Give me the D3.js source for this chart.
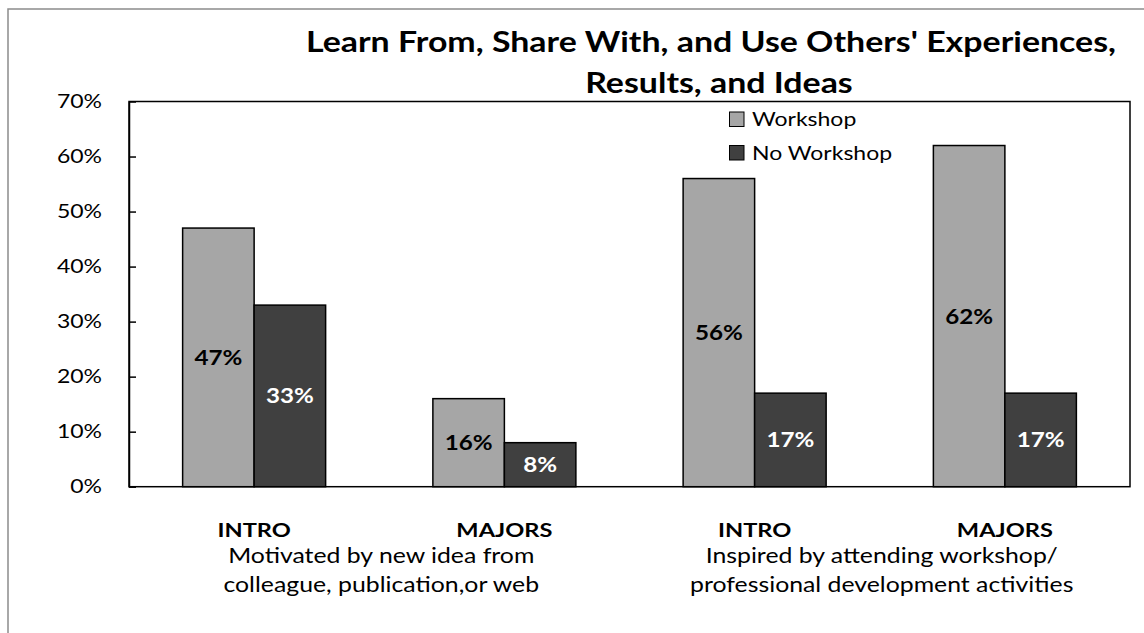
<!DOCTYPE html>
<html>
<head>
<meta charset="utf-8">
<script src="https://cdn.jsdelivr.net/npm/d3@7"></script>
<style>
  body { margin: 0; background: #fff; }
  svg { display: block; font-family: Lato, "Open Sans", sans-serif; }
</style>
</head>
<body>
<div id="chart"></div>
<script>
// data
const categories = ["INTRO", "MAJORS", "INTRO", "MAJORS"]
const groupLabels = [
  ["Motivated by new idea from", "colleague, publication,or web"],
  ["Inspired by attending workshop/", "professional development activities"]
]
const seriesNames = ["Workshop", "No Workshop"]
const workshop = [47, 16, 56, 62]
const noWorkshop = [33, 8, 17, 17]
const yTicks = [0, 10, 20, 30, 40, 50, 60, 70]

const colors = ["#a6a6a6", "#404040"]
const labelColors = ["#000", "#fff"]

const width = 1144, height = 633
const plot = { left: 129, right: 1130, top: 101.5, bottom: 486.7 }
// the original picture is stretched sideways, so text is widened to match
const stretch = 1.21

let svg = d3.select("#chart").append("svg")
  .attr("width", width)
  .attr("height", height)

// outer chart frame (only left and top visible)
svg.append("rect")
  .attr("x", 8).attr("y", 9)
  .attr("width", 1200).attr("height", 700)
  .attr("fill", "none")
  .attr("stroke", "#8c8c8c")
  .attr("stroke-width", 1.5)

const x0 = d3.scaleBand()
  .domain(d3.range(categories.length))
  .range([plot.left, plot.right])
  .paddingInner(0)

const x1 = d3.scaleBand()
  .domain([0, 1])
  .range([0, x0.bandwidth()])
  .paddingOuter(0.75)
  .paddingInner(0)

const y = d3.scaleLinear()
  .domain([0, 70])
  .range([plot.bottom, plot.top])

// plot area border
svg.append("rect")
  .attr("x", plot.left).attr("y", plot.top)
  .attr("width", plot.right - plot.left)
  .attr("height", plot.bottom - plot.top)
  .attr("fill", "none")
  .attr("stroke", "#000")
  .attr("stroke-width", 1.5)

// y axis with inside ticks
const yAxis = d3.axisLeft(y)
  .tickValues(yTicks)
  .tickSizeInner(-7)
  .tickSizeOuter(0)
  .tickPadding(27)
  .tickFormat(d => d + "%")

const yG = svg.append("g")
  .attr("transform", "translate(" + plot.left + ",0)")
  .call(yAxis)
yG.select(".domain").attr("stroke", "#000").attr("stroke-width", 1.5)
yG.selectAll(".tick line").attr("stroke", "#000").attr("stroke-width", 1.5)
yG.selectAll(".tick text")
  .attr("fill", "#000")
  .style("font-size", "19px")
  .style("font-family", "Lato, sans-serif")

// bars
const rows = categories.map((c, i) => [workshop[i], noWorkshop[i]])

const groups = svg.append("g")
  .selectAll("g")
  .data(rows)
  .enter().append("g")
  .attr("transform", (d, i) => "translate(" + x0(i) + ",0)")

groups.selectAll("rect")
  .data(d => d)
  .enter().append("rect")
  .attr("x", (d, j) => x1(j))
  .attr("y", d => y(d))
  .attr("width", x1.bandwidth())
  .attr("height", d => y(0) - y(d))
  .attr("fill", (d, j) => colors[j])
  .attr("stroke", "#000")
  .attr("stroke-width", 1.5)

groups.selectAll("text")
  .data(d => d)
  .enter().append("text")
  .attr("x", (d, j) => x1(j) + x1.bandwidth() / 2)
  .attr("y", d => (y(d) + y(0)) / 2)
  .attr("dy", "0.37em")
  .attr("text-anchor", "middle")
  .attr("fill", (d, j) => labelColors[j])
  .style("font-size", "20px")
  .style("font-weight", "bold")
  .text(d => d + "%")

// x axis category labels
svg.append("g")
  .selectAll("text")
  .data(categories)
  .enter().append("text")
  .attr("x", (d, i) => x0(i) + x0.bandwidth() / 2)
  .attr("y", 537)
  .attr("text-anchor", "middle")
  .style("font-size", "19.5px")
  .style("font-weight", "bold")
  .text(d => d)

// group labels (second level)
const gl = svg.append("g")
  .selectAll("text")
  .data(groupLabels)
  .enter().append("text")
  .attr("x", (d, i) => x0(i * 2 + 1) + 2)
  .attr("text-anchor", "middle")
  .style("font-size", "20.5px")

gl.selectAll("tspan")
  .data(d => d)
  .enter().append("tspan")
  .attr("x", function () { return d3.select(this.parentNode).attr("x") })
  .attr("y", (d, k) => 563 + k * 29)
  .text(d => d)

// title
const title = svg.append("text")
  .attr("text-anchor", "middle")
  .style("font-size", "28px")
  .style("font-weight", "bold")
title.append("tspan").attr("x", 711).attr("y", 52)
  .text("Learn From, Share With, and Use Others' Experiences,")
title.append("tspan").attr("x", 719).attr("y", 93)
  .text("Results, and Ideas")

// legend
const legend = svg.append("g")
  .selectAll("g")
  .data(seriesNames)
  .enter().append("g")
  .attr("transform", (d, i) => "translate(729.5," + (112 + i * 33.5) + ")")

legend.append("rect")
  .attr("width", 14.5).attr("height", 14.5)
  .attr("fill", (d, i) => colors[i])
  .attr("stroke", "#000")
  .attr("stroke-width", 1)

legend.append("text")
  .attr("x", 22.5).attr("y", 7.5)
  .attr("dy", "0.36em")
  .style("font-size", "19px")
  .text(d => d)

// widen every piece of text
svg.selectAll("text").each(function () {
  const el = d3.select(this)
  const parts = el.selectAll("tspan").size() ? el.selectAll("tspan") : el
  parts.each(function () {
    const len = this.getComputedTextLength()
    d3.select(this)
      .attr("textLength", len * stretch)
      .attr("lengthAdjust", "spacingAndGlyphs")
  })
})
</script>
</body>
</html>
